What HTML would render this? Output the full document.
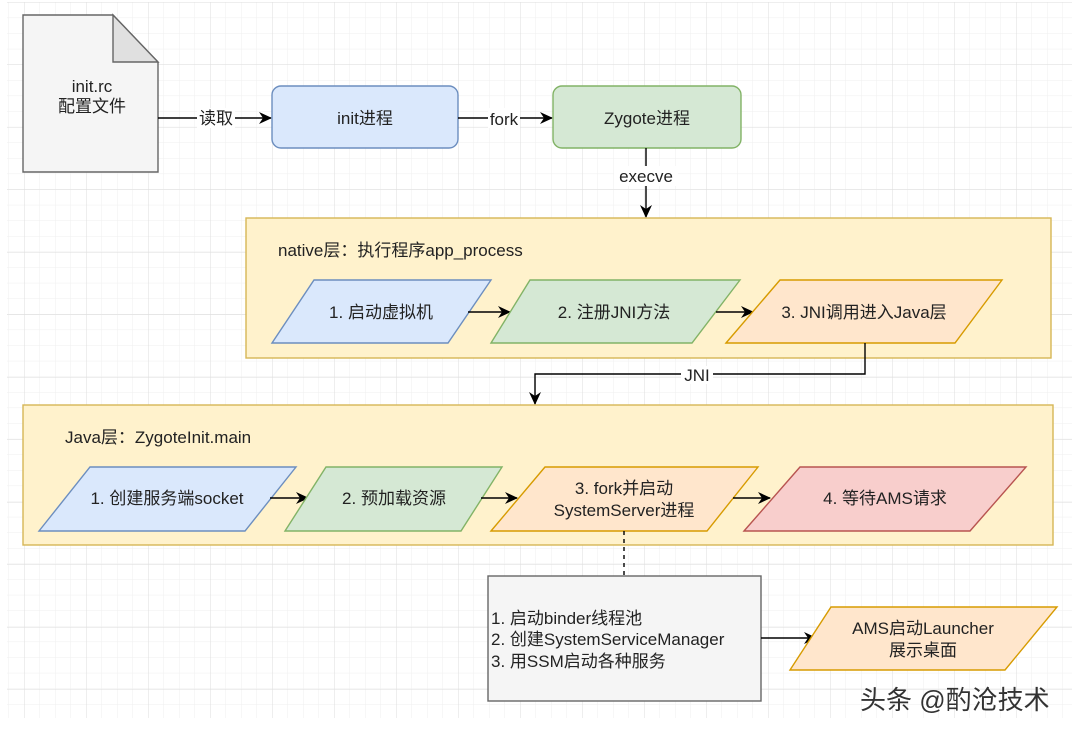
<!DOCTYPE html>
<html><head><meta charset="utf-8"><style>
html,body{margin:0;padding:0;background:#fff;}
body{width:1080px;height:733px;overflow:hidden;position:relative;}
svg{position:absolute;left:0;top:0;}
text{font-family:"Liberation Sans","Noto Sans CJK SC",sans-serif;font-size:17px;fill:#222;}
</style></head><body>
<svg width="1080" height="733" viewBox="0 0 1080 733">
<defs>
<pattern id="minor" width="15.5" height="15.6" patternUnits="userSpaceOnUse" x="24" y="2">
<path d="M0 0H15.5M0 0V15.6" stroke="#efefef" stroke-width="1" fill="none"/>
</pattern>
<pattern id="major" width="62" height="62.5" patternUnits="userSpaceOnUse" x="24" y="2">
<path d="M0 0H62M0 0V62.5" stroke="#dddddd" stroke-width="1" fill="none"/>
</pattern>
<marker id="ar" markerWidth="13" markerHeight="12" refX="12" refY="6" orient="auto" markerUnits="userSpaceOnUse">
<path d="M0 0L13 6L0 12L4 6Z" fill="#000"/>
</marker>
</defs>
<rect x="7" y="2" width="1065" height="716" fill="url(#minor)"/>
<rect x="7" y="2" width="1065" height="716" fill="url(#major)"/>

<path d="M23 15H113L158 62V172H23Z" fill="#f5f5f5" stroke="#666" stroke-width="1.4"/>
<path d="M113 15V62H158Z" fill="#e0e0e0" stroke="#666" stroke-width="1.4"/>
<text x="92" y="92" text-anchor="middle">init.rc</text>
<text x="92" y="112" text-anchor="middle">配置文件</text>

<line x1="158" y1="118" x2="271" y2="118" stroke="#000" stroke-width="1.4" marker-end="url(#ar)"/>
<rect x="197" y="108" width="38" height="20" fill="#fff"/>
<text x="216" y="124" text-anchor="middle">读取</text>

<rect x="272" y="86" width="186" height="62" rx="9" fill="#dae8fc" stroke="#6c8ebf" stroke-width="1.4"/>
<text x="365" y="124" text-anchor="middle">init进程</text>

<line x1="458" y1="118" x2="552" y2="118" stroke="#000" stroke-width="1.4" marker-end="url(#ar)"/>
<rect x="488" y="108" width="32" height="20" fill="#fff"/>
<text x="504" y="125" text-anchor="middle">fork</text>

<rect x="553" y="86" width="188" height="62" rx="9" fill="#d5e8d4" stroke="#82b366" stroke-width="1.4"/>
<text x="647" y="124" text-anchor="middle">Zygote进程</text>

<line x1="646" y1="148" x2="646" y2="217" stroke="#000" stroke-width="1.4" marker-end="url(#ar)"/>
<rect x="614" y="166" width="64" height="20" fill="#fff"/>
<text x="646" y="182" text-anchor="middle">execve</text>

<rect x="246" y="218" width="805" height="140" fill="#fff2cc" stroke="#d6b656" stroke-width="1.4"/>
<text x="278" y="256">native层：执行程序app_process</text>
<path d="M272 343L314 280H491L448 343Z" fill="#dae8fc" stroke="#6c8ebf" stroke-width="1.4"/>
<text x="381" y="318" text-anchor="middle">1. 启动虚拟机</text>
<line x1="468" y1="312" x2="510" y2="312" stroke="#000" stroke-width="1.4" marker-end="url(#ar)"/>
<path d="M491 343L530 280H740L692 343Z" fill="#d5e8d4" stroke="#82b366" stroke-width="1.4"/>
<text x="614" y="318" text-anchor="middle">2. 注册JNI方法</text>
<line x1="716" y1="312" x2="753" y2="312" stroke="#000" stroke-width="1.4" marker-end="url(#ar)"/>
<path d="M726 343L780 280H1002L955 343Z" fill="#ffe6cc" stroke="#d79b00" stroke-width="1.4"/>
<text x="864" y="318" text-anchor="middle">3. JNI调用进入Java层</text>

<path d="M865 343V374H535V404" fill="none" stroke="#000" stroke-width="1.4" marker-end="url(#ar)"/>
<rect x="681" y="366" width="32" height="18" fill="#fff"/>
<text x="697" y="381" text-anchor="middle">JNI</text>

<rect x="23" y="405" width="1030" height="140" fill="#fff2cc" stroke="#d6b656" stroke-width="1.4"/>
<text x="65" y="443">Java层：ZygoteInit.main</text>
<path d="M39 531L90 467H296L245 531Z" fill="#dae8fc" stroke="#6c8ebf" stroke-width="1.4"/>
<text x="167" y="504" text-anchor="middle">1. 创建服务端socket</text>
<line x1="270" y1="498" x2="308" y2="498" stroke="#000" stroke-width="1.4" marker-end="url(#ar)"/>
<path d="M285 531L326 467H502L461 531Z" fill="#d5e8d4" stroke="#82b366" stroke-width="1.4"/>
<text x="394" y="504" text-anchor="middle">2. 预加载资源</text>
<line x1="481" y1="498" x2="517" y2="498" stroke="#000" stroke-width="1.4" marker-end="url(#ar)"/>
<path d="M491 531L545 467H758L707 531Z" fill="#ffe6cc" stroke="#d79b00" stroke-width="1.4"/>
<text x="624" y="494" text-anchor="middle">3. fork并启动</text>
<text x="624" y="516" text-anchor="middle">SystemServer进程</text>
<line x1="733" y1="498" x2="770" y2="498" stroke="#000" stroke-width="1.4" marker-end="url(#ar)"/>
<path d="M744 531L800 467H1026L970 531Z" fill="#f8cecc" stroke="#b85450" stroke-width="1.4"/>
<text x="885" y="504" text-anchor="middle">4. 等待AMS请求</text>

<line x1="624" y1="531" x2="624" y2="576" stroke="#000" stroke-width="1.4" stroke-dasharray="4 4"/>

<rect x="488" y="576" width="273" height="125" fill="#f5f5f5" stroke="#666" stroke-width="1.4"/>
<text x="491" y="624">1. 启动binder线程池</text>
<text x="491" y="645">2. 创建SystemServiceManager</text>
<text x="491" y="667">3. 用SSM启动各种服务</text>
<line x1="761" y1="638" x2="816" y2="638" stroke="#000" stroke-width="1.4" marker-end="url(#ar)"/>
<path d="M790 670L831 607H1057L1005 670Z" fill="#ffe6cc" stroke="#d79b00" stroke-width="1.4"/>
<text x="923" y="634" text-anchor="middle">AMS启动Launcher</text>
<text x="923" y="656" text-anchor="middle">展示桌面</text>

<text x="860" y="709" style="font-size:26px;fill:#333;">头条 @酌沧技术</text>
</svg>
</body></html>
